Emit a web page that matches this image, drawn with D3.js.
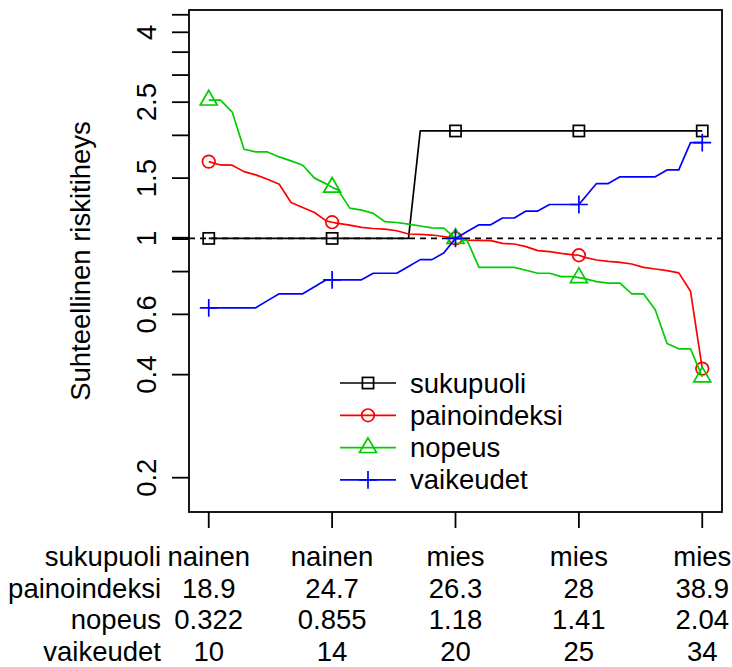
<!DOCTYPE html>
<html lang="en">
<head>
    <meta charset="UTF-8">
    <title>Suhteellinen riskitiheys</title>
    <script src="https://d3js.org/d3.v7.js"></script>
    <style>
        body { margin: 0; background: #fff; }
        text { font-family: "Liberation Sans", Arial, sans-serif; fill: #000; }
    </style>
</head>

<body>
    <svg>
    </svg>
</body>

<script>

    // rank positions along the x axis, and the five quantile ranks that get ticks
    const ranks = [1, 2, 3, 4, 5, 6, 7, 8, 9, 10, 11, 12, 13, 14, 15, 16, 17, 18, 19, 20, 21, 22,
        23, 24, 25, 26, 27, 28, 29, 30, 31, 32, 33, 34, 35, 36, 37, 38, 39, 40, 41, 42, 43];
    const tickRanks = [1, 11.5, 22, 32.5, 43];

    // relative risk at each rank, one array per covariate
    const sukupuoli = [1, 1, 1, 1, 1, 1, 1, 1, 1, 1, 1, 1, 1, 1, 1, 1, 1, 1,
        2.06, 2.06, 2.06, 2.06, 2.06, 2.06, 2.06, 2.06, 2.06, 2.06, 2.06, 2.06, 2.06,
        2.06, 2.06, 2.06, 2.06, 2.06, 2.06, 2.06, 2.06, 2.06, 2.06, 2.06, 2.06];
    const painoindeksi = [1.676, 1.639, 1.636, 1.567, 1.533, 1.489, 1.44, 1.273, 1.231, 1.19,
        1.125, 1.107, 1.094, 1.077, 1.069, 1.065, 1.053, 1.03, 1.027, 1.023, 1.013, 1,
        0.989, 0.987, 0.985, 0.967, 0.963, 0.946, 0.921, 0.915, 0.904, 0.895, 0.88, 0.865,
        0.857, 0.851, 0.842, 0.823, 0.814, 0.805, 0.793, 0.701, 0.4165];
    const nopeus = [2.535, 2.535, 2.339, 1.821, 1.789, 1.789, 1.73, 1.684, 1.636, 1.5,
        1.443, 1.386, 1.226, 1.21, 1.183, 1.119, 1.113, 1.101, 1.087, 1.074, 1.072, 1,
        0.985, 0.823, 0.823, 0.823, 0.823, 0.807, 0.791, 0.791, 0.773, 0.773, 0.763, 0.748,
        0.74, 0.74, 0.689, 0.689, 0.619, 0.493, 0.476, 0.476, 0.394];
    const vaikeudet = [0.627, 0.627, 0.627, 0.627, 0.627, 0.658, 0.689, 0.689, 0.689, 0.722,
        0.757, 0.757, 0.757, 0.757, 0.791, 0.791, 0.791, 0.828, 0.867, 0.867, 0.907, 1,
        1.047, 1.096, 1.096, 1.147, 1.147, 1.202, 1.202, 1.256, 1.256, 1.256, 1.317, 1.446,
        1.446, 1.513, 1.513, 1.513, 1.513, 1.585, 1.585, 1.904, 1.904];

    // values at the tick ranks, drawn with plotting symbols
    const sukupuoliMarks = [1, 1, 2.06, 2.06, 2.06];
    const painoindeksiMarks = [1.676, 1.115, 1, 0.893, 0.4165];
    const nopeusMarks = [2.535, 1.41, 1, 0.768, 0.394];
    const vaikeudetMarks = [0.627, 0.757, 1, 1.256, 1.904];

    // covariate values printed under each tick
    const rowNames = ["sukupuoli", "painoindeksi", "nopeus", "vaikeudet"];
    const sukupuoliLabels = ["nainen", "nainen", "mies", "mies", "mies"];
    const painoindeksiLabels = ["18.9", "24.7", "26.3", "28", "38.9"];
    const nopeusLabels = ["0.322", "0.855", "1.18", "1.41", "2.04"];
    const vaikeudetLabels = ["10", "14", "20", "25", "34"];

    const yTicks = [0.2, 0.4, 0.6, 0.8, 1, 1.5, 2, 2.5, 3, 3.5, 4, 4.5];
    const yTickLabels = [0.2, 0.4, 0.6, 1, 1.5, 2.5, 4];

    const width = 732;
    const height = 667;
    const plotLeft = 189, plotRight = 722, plotTop = 10, plotBottom = 512;
    const fontSize = 27.5;

    const svg = d3.select("svg")
        .attr("width", width)
        .attr("height", height);

    const xScale = d3.scaleLinear()
        .domain([-0.68, 44.68])
        .range([plotLeft, plotRight]);

    const yScale = d3.scaleLog()
        .domain([0.1588, 4.647])
        .range([plotBottom, plotTop]);

    const series = [
        { name: "sukupuoli", values: sukupuoli, marks: sukupuoliMarks, color: "#000000", pch: "square" },
        { name: "painoindeksi", values: painoindeksi, marks: painoindeksiMarks, color: "#FF0000", pch: "circle" },
        { name: "nopeus", values: nopeus, marks: nopeusMarks, color: "#00CD00", pch: "triangle" },
        { name: "vaikeudet", values: vaikeudet, marks: vaikeudetMarks, color: "#0000FF", pch: "plus" }
    ];

    // plotting symbols, sized like R's pch 0, 1, 2, 3
    const r0 = 6.3;
    function symbol(g, pch, color) {
        if (pch === "square") {
            const h = r0 * 0.886;
            g.append("rect").attr("x", -h).attr("y", -h).attr("width", 2 * h).attr("height", 2 * h)
                .style("fill", "none").style("stroke", color).style("stroke-width", 1.7);
        } else if (pch === "circle") {
            g.append("circle").attr("r", r0)
                .style("fill", "none").style("stroke", color).style("stroke-width", 1.7);
        } else if (pch === "triangle") {
            const r = 1.555 * r0, xc = 1.3468 * r0, yc = 0.7776 * r0;
            g.append("path").attr("d", `M0,${-r}L${xc},${yc}L${-xc},${yc}Z`)
                .style("fill", "none").style("stroke", color).style("stroke-width", 1.7);
        } else {
            const a = 1.414 * r0;
            g.append("path").attr("d", `M${-a},0H${a}M0,${-a}V${a}`)
                .style("fill", "none").style("stroke", color).style("stroke-width", 1.7);
        }
    }

    // reference line at relative risk 1
    svg.append("line")
        .attr("x1", plotLeft).attr("x2", plotRight)
        .attr("y1", yScale(1)).attr("y2", yScale(1))
        .style("stroke", "black")
        .style("stroke-width", 1.7)
        .style("stroke-dasharray", "6,5");

    const line = d3.line()
        .x(d => xScale(d[0]))
        .y(d => yScale(d[1]));

    series.forEach(s => {
        const pts = ranks.map((r, i) => [r, s.values[i]]);
        tickRanks.forEach((r, i) => {
            if (!ranks.includes(r)) pts.push([r, s.marks[i]]);
        });
        pts.sort((a, b) => a[0] - b[0]);

        svg.append("path")
            .datum(pts)
            .attr("d", line)
            .style("fill", "none")
            .style("stroke", s.color)
            .style("stroke-width", 1.7)
            .style("stroke-linejoin", "round");

        tickRanks.forEach((r, i) => {
            const g = svg.append("g")
                .attr("transform", `translate(${xScale(r)}, ${yScale(s.marks[i])})`);
            symbol(g, s.pch, s.color);
        });
    });

    // frame
    svg.append("rect")
        .attr("x", plotLeft).attr("y", plotTop)
        .attr("width", plotRight - plotLeft).attr("height", plotBottom - plotTop)
        .style("fill", "none")
        .style("stroke", "black")
        .style("stroke-width", 1.8);

    // y axis ticks, labels parallel to the axis
    svg.selectAll(".ytick")
        .data(yTicks)
        .join("line")
        .attr("class", "ytick")
        .attr("x1", plotLeft - 17).attr("x2", plotLeft)
        .attr("y1", d => yScale(d)).attr("y2", d => yScale(d))
        .style("stroke", "black")
        .style("stroke-width", d => d === 1 ? 3.2 : 1.8);

    svg.selectAll(".ylabel")
        .data(yTickLabels)
        .join("text")
        .attr("class", "ylabel")
        .attr("transform", d => `translate(${plotLeft - 33}, ${yScale(d)}) rotate(-90)`)
        .attr("text-anchor", "middle")
        .style("font-size", fontSize + "px")
        .text(d => d);

    svg.append("text")
        .attr("transform", `translate(${plotLeft - 99}, ${(plotTop + plotBottom) / 2}) rotate(-90)`)
        .attr("text-anchor", "middle")
        .style("font-size", fontSize + "px")
        .text("Suhteellinen riskitiheys");

    // x axis ticks
    svg.selectAll(".xtick")
        .data(tickRanks)
        .join("line")
        .attr("class", "xtick")
        .attr("x1", d => xScale(d)).attr("x2", d => xScale(d))
        .attr("y1", plotBottom).attr("y2", plotBottom + 16)
        .style("stroke", "black")
        .style("stroke-width", 1.8);

    // covariate table under the axis
    const rows = [sukupuoliLabels, painoindeksiLabels, nopeusLabels, vaikeudetLabels];
    const rowY = [566, 597.7, 629.3, 661];
    rows.forEach((labels, j) => {
        svg.append("text")
            .attr("x", 161)
            .attr("y", rowY[j])
            .attr("text-anchor", "end")
            .style("font-size", fontSize + "px")
            .text(rowNames[j]);
        svg.selectAll(".row" + j)
            .data(labels)
            .join("text")
            .attr("class", "row" + j)
            .attr("x", (d, i) => xScale(tickRanks[i]))
            .attr("y", rowY[j])
            .attr("text-anchor", "middle")
            .style("font-size", fontSize + "px")
            .text(d => d);
    });

    // legend
    const legend = svg.append("g");
    series.forEach((s, i) => {
        const ly = 383 + i * 32.3;
        legend.append("line")
            .attr("x1", 340).attr("x2", 396)
            .attr("y1", ly).attr("y2", ly)
            .style("stroke", s.color)
            .style("stroke-width", 1.7);
        const g = legend.append("g").attr("transform", `translate(368, ${ly})`);
        symbol(g, s.pch, s.color);
        legend.append("text")
            .attr("x", 410)
            .attr("y", ly + 9.5)
            .style("font-size", fontSize + "px")
            .text(s.name);
    });

</script>

</html>
